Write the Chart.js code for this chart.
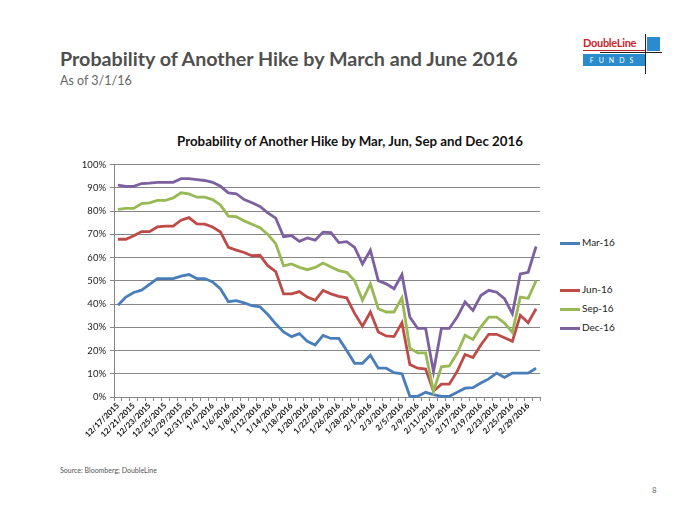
<!DOCTYPE html>
<html>
<head>
<meta charset="utf-8">
<script src="https://cdn.jsdelivr.net/npm/chart.js@4.4.1/dist/chart.umd.min.js"></script>
<style>
  body { margin: 0; background: #fff; font-family: Lato, "Open Sans", sans-serif; }
  #page { position: relative; width: 700px; height: 525px; overflow: hidden; }
  .abs { position: absolute; white-space: nowrap; }
  #title { left: 60px; top: 47px; font-size: 19.7px; font-weight: bold; color: #4f4f4f; }
  #subtitle { left: 60px; top: 73px; font-size: 12.5px; color: #666; }
  #chartTitle { left: 0; width: 700px; text-align: center; top: 133px; font-size: 13.3px; font-weight: bold; color: #111; }
  #wrap { left: 55px; top: 155px; width: 490px; height: 300px; }
  #source { left: 60px; top: 466px; font-size: 7px; color: #555; }
  #pageNo { left: 652px; top: 485px; font-size: 8px; color: #666; }
  .leg { position: absolute; font-size: 10px; color: #222; white-space: nowrap; width: 80px; height: 14px; }
  .leg span { position: absolute; left: 0; top: 6px; width: 20px; height: 3px; }
  .leg b { position: absolute; left: 22px; top: 0; font-weight: normal; white-space: nowrap; }
</style>
</head>
<body>
<div id="page">
  <div id="title" class="abs">Probability of Another Hike by March and June 2016</div>
  <div id="subtitle" class="abs">As of 3/1/16</div>

  <!-- logo -->
  <div class="abs" style="left:583px;top:36px;font-size:11px;font-weight:bold;color:#c8252c;letter-spacing:-0.3px;">DoubleLine</div>
  <div class="abs" style="left:583px;top:50px;width:62px;height:1px;background:#c8252c;"></div>
  <div class="abs" style="left:647px;top:37px;width:13px;height:14px;background:#2a8ccc;"></div>
  <div class="abs" style="left:583px;top:54px;width:62px;height:12px;background:#2a8ccc;color:#fff;font-size:7px;line-height:12px;text-align:center;letter-spacing:5px;">FUNDS</div>
  <div class="abs" style="left:645px;top:34px;width:1px;height:40px;background:#222;"></div>
  <div class="abs" style="left:600px;top:52px;width:62px;height:1px;background:#222;"></div>

  <div id="chartTitle" class="abs">Probability of Another Hike by Mar, Jun, Sep and Dec 2016</div>
  <div id="wrap" class="abs"><canvas id="hikeChart"></canvas></div>
  <div id="legend"></div>
  <div id="source" class="abs">Source: Bloomberg; DoubleLine</div>
  <div id="pageNo" class="abs">8</div>
</div>

<script>
const dates = [
  "12/17/2015", "12/18/2015", "12/21/2015", "12/22/2015", "12/23/2015", "12/24/2015", "12/25/2015",
  "12/28/2015", "12/29/2015", "12/30/2015", "12/31/2015", "1/1/2016",
  "1/4/2016", "1/5/2016", "1/6/2016", "1/7/2016", "1/8/2016",
  "1/11/2016", "1/12/2016", "1/13/2016", "1/14/2016", "1/15/2016",
  "1/18/2016", "1/19/2016", "1/20/2016", "1/21/2016", "1/22/2016",
  "1/25/2016", "1/26/2016", "1/27/2016", "1/28/2016", "1/29/2016",
  "2/1/2016", "2/2/2016", "2/3/2016", "2/4/2016", "2/5/2016",
  "2/8/2016", "2/9/2016", "2/10/2016", "2/11/2016", "2/12/2016",
  "2/15/2016", "2/16/2016", "2/17/2016", "2/18/2016", "2/19/2016",
  "2/22/2016", "2/23/2016", "2/24/2016", "2/25/2016", "2/26/2016",
  "2/29/2016", "3/1/2016"
];

const mar16 = [39.5, 43, 45, 46, 48.5, 51, 51, 51, 52, 52.7, 51, 51, 49.5, 46.5,
  41, 41.5, 40.5, 39.3, 38.8, 35.5, 31.5, 28, 26, 27.3, 24, 22.4, 26.5, 25.2,
  25.2, 20, 14.5, 14.5, 18, 12.4, 12.4, 10.5, 10, 0.3, 0.3, 2,
  1, 0.3, 0.3, 2, 3.8, 4, 6, 7.8, 10.3, 8.4, 10.3, 10.3, 10.3, 12.4];

const jun16 = [67.9, 67.9, 69.4, 71.2, 71.2, 73.2, 73.6, 73.6, 76.1, 77.2, 74.5, 74.4, 73.2, 71,
  64.4, 63.2, 62.2, 60.8, 61, 56.5, 54, 44.4, 44.4, 45.4, 43, 41.6, 45.9, 44.4,
  43.3, 42.7, 36, 30.5, 36.6, 28, 26.3, 26, 32, 14, 12.4, 12,
  2.5, 5.5, 5.5, 11, 18.3, 17, 22.4, 27, 27, 25.5, 24, 35.2, 32, 38];

const sep16 = [80.8, 81.2, 81.2, 83.3, 83.6, 84.6, 84.6, 85.7, 87.9, 87.4, 86, 86, 85, 82.6,
  77.9, 77.6, 75.8, 74.4, 72.9, 70, 66, 56.5, 57.3, 55.8, 54.8, 55.8, 57.7, 56,
  54.4, 53.7, 50, 41.6, 48.7, 38, 36.6, 36.6, 42.7, 21, 19, 19,
  2.5, 13, 13.4, 18.8, 26.6, 24.8, 30.2, 34.4, 34.4, 31.8, 27.8, 43, 42.5, 50];

const dec16 = [91.2, 90.7, 90.7, 91.9, 92.1, 92.4, 92.4, 92.4, 94, 94, 93.6, 93.2, 92.4, 90.7,
  87.9, 87.5, 85, 83.6, 82, 79.3, 77, 69, 69.5, 67, 68.5, 67.5, 71, 70.8,
  66.5, 66.9, 64.4, 57.3, 63.2, 50.1, 48.7, 46.6, 52.7, 34.4, 29.5, 29.5,
  10.9, 29.5, 29.5, 34.4, 40.9, 37.3, 43.7, 45.9, 45.1, 42.3, 35.9, 53, 53.7, 64.8];

const seriesNames = ["Mar-16", "Jun-16", "Sep-16", "Dec-16"];
const seriesColors = ["#4a7ebb", "#be4b48", "#98b954", "#7d60a0"];
const seriesData = [mar16, jun16, sep16, dec16];

const datasets = seriesNames.map((name, i) => ({
  label: name,
  data: seriesData[i],
  borderColor: seriesColors[i],
  backgroundColor: seriesColors[i],
  borderWidth: 2.8,
  pointRadius: 0,
  tension: 0,
  fill: false,
  clip: 4,
  order: 3 - i
}));

const ctx = document.getElementById("hikeChart").getContext("2d");

new Chart(ctx, {
  type: "line",
  data: { labels: dates, datasets: datasets },
  options: {
    responsive: true,
    maintainAspectRatio: false,
    animation: false,
    layout: { padding: { top: 8, right: 5, left: 0, bottom: 0 } },
    plugins: {
      legend: { display: false },
      tooltip: { enabled: false },
      title: { display: false }
    },
    scales: {
      x: {
        offset: true,
        grid: { offset: true, drawOnChartArea: false, drawTicks: true, tickLength: 4, color: "#868686" },
        border: { color: "#868686", width: 1 },
        ticks: {
          autoSkip: false,
          minRotation: 45,
          maxRotation: 45,
          padding: 0,
          color: "#111",
          font: { family: "Lato", size: 8, weight: "bold" },
          callback: function (v, i) { return i % 2 === 0 ? dates[i] : ""; }
        },
        afterFit: function (s) { s.height = 58; }
      },
      y: {
        min: 0,
        max: 100,
        ticks: {
          stepSize: 10,
          padding: 4,
          color: "#222",
          font: { family: "Lato", size: 9.5 },
          callback: function (v) { return v + "%"; }
        },
        grid: { color: "#868686", tickLength: 4 },
        border: { color: "#868686" },
        afterFit: function (s) { s.width = 59; }
      }
    }
  }
});

// legend on the right, spaced as in the original slide
const legendTops = [236, 283, 302, 321];
const legendDiv = document.getElementById("legend");
seriesNames.forEach((name, i) => {
  let item = document.createElement("div");
  item.className = "leg";
  item.style.left = "560px";
  item.style.top = legendTops[i] + "px";
  item.innerHTML = `<span style="background:${seriesColors[i]}"></span><b>${name}</b>`;
  legendDiv.appendChild(item);
});
</script>
</body>
</html>
